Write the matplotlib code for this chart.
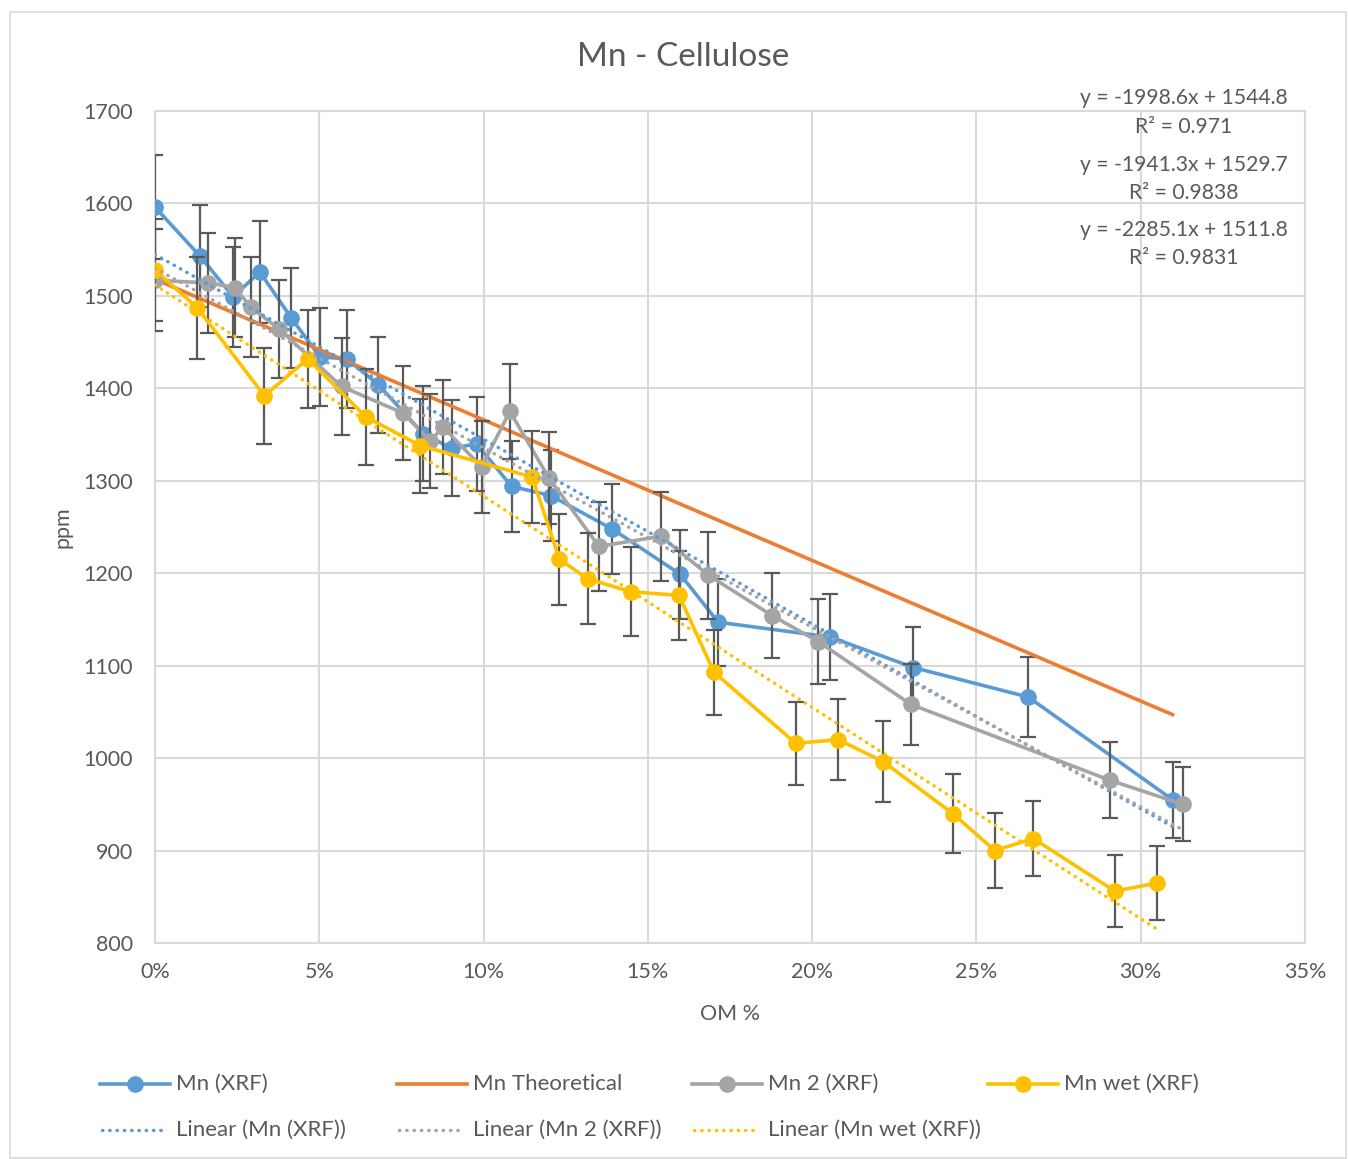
import matplotlib
matplotlib.use("Agg")
import matplotlib.pyplot as plt
import numpy as np
from matplotlib.lines import Line2D
from matplotlib.patches import Rectangle
from matplotlib.ticker import FuncFormatter, MultipleLocator

plt.rcParams['font.family'] = ['Lato', 'DejaVu Sans']

# ---- data (OM % and ppm) ----
mn_x = [0, 1.37, 2.38, 3.19, 4.15, 5.02, 5.83, 6.80, 8.16, 9.03, 9.79, 10.85,
        12.04, 13.91, 15.98, 17.14, 20.55, 23.08, 26.58, 30.97]
mn_y = [1596, 1543, 1499, 1526, 1476, 1434, 1432, 1404, 1351, 1335, 1340, 1294,
        1284, 1248, 1199, 1147, 1131, 1098, 1066, 955]
mn_err = [56, 55, 54, 55, 54, 53, 53, 52, 51, 52, 51, 49, 49, 49, 48, 47, 46, 44, 43, 41]

mn2_x = [0, 1.62, 2.43, 2.91, 3.78, 5.68, 7.56, 8.37, 8.77, 9.94, 10.80, 11.99,
         13.51, 15.40, 16.84, 18.79, 20.19, 23.01, 29.07, 31.28]
mn2_y = [1517, 1514, 1509, 1488, 1464, 1402, 1373, 1343, 1358, 1315, 1375, 1303,
         1229, 1240, 1198, 1154, 1126, 1058, 976, 950]
mn2_err = [55, 54, 54, 54, 53, 52, 51, 51, 51, 50, 51, 50, 48, 48, 47, 46, 46, 44, 41, 40]

wet_x = [0, 1.29, 3.33, 4.65, 6.42, 8.08, 11.48, 12.31, 13.17, 14.48, 15.95, 17.01,
         19.50, 20.80, 22.17, 24.28, 25.56, 26.73, 29.22, 30.51]
wet_y = [1528, 1487, 1392, 1432, 1369, 1338, 1304, 1215, 1194, 1180, 1176, 1093,
         1016, 1020, 996, 940, 900, 913, 856, 865]
wet_err = [55, 55, 52, 53, 52, 51, 50, 49, 49, 48, 48, 46, 45, 44, 44, 43, 41, 41, 39, 40]

theo_x = [0, 30.97]
theo_y = [1518, 1047]

# trendline coefficients (x as fraction)
fit_mn = (-1998.6, 1544.8, 0.971)
fit_mn2 = (-1941.3, 1529.7, 0.9838)
fit_wet = (-2285.1, 1511.8, 0.9831)

names = ["Mn (XRF)", "Mn Theoretical", "Mn 2 (XRF)", "Mn wet (XRF)"]
lin_names = ["Linear (Mn (XRF))", "Linear (Mn 2 (XRF))", "Linear (Mn wet (XRF))"]

BLUE = "#5B9BD5"; ORANGE = "#ED7D31"; GRAY = "#A5A5A5"; YELLOW = "#FFC000"
TXT = "#595959"; GRID = "#D9D9D9"; ERR = "#595959"
DOT = (0, (0.1, 2.0))

W, H = 1348, 1159
fig = plt.figure(figsize=(W / 100, H / 100), dpi=100)
fig.patch.set_facecolor("white")
fig.add_artist(Rectangle((10 / W, 1 - 1158 / H), (1346 - 10) / W, (1158 - 12) / H,
                         transform=fig.transFigure, fill=False, edgecolor=GRID, lw=1.2))

ax = fig.add_axes([155 / W, 1 - 943 / H, (1305 - 155) / W, (943 - 111) / H])
ax.set_xlim(0, 0.35)
ax.set_ylim(800, 1700)
ax.xaxis.set_major_locator(MultipleLocator(0.05))
ax.yaxis.set_major_locator(MultipleLocator(100))
ax.xaxis.set_major_formatter(FuncFormatter(lambda v, p: f"{v*100:.0f}%"))
ax.grid(True, color=GRID, lw=1.5)
ax.set_axisbelow(True)
for s in ax.spines.values():
    s.set_color(GRID)
    s.set_linewidth(1.5)
ax.tick_params(length=0, labelsize=15.5, labelcolor=TXT)
ax.tick_params(axis='x', pad=14)
ax.tick_params(axis='y', pad=16)

def series(xs, ys, errs, color, z):
    xf = np.array(xs) / 100.0
    ax.errorbar(xf, ys, yerr=errs, fmt='none', ecolor=ERR, elinewidth=1.6,
                capsize=6, capthick=1.6, zorder=z)
    ax.plot(xf, ys, color=color, lw=2.6, marker='o', ms=11, zorder=z + 0.5)

series(mn_x, mn_y, mn_err, BLUE, 3)
ax.plot(np.array(theo_x) / 100.0, theo_y, color=ORANGE, lw=2.6, zorder=4.6)
series(mn2_x, mn2_y, mn2_err, GRAY, 5)
series(wet_x, wet_y, wet_err, YELLOW, 7)

def trend(xs, fit, color, z):
    xe = np.array([0, xs[-1] / 100.0])
    ax.plot(xe, fit[0] * xe + fit[1], color=color, lw=2.5, ls=DOT,
            dash_capstyle='round', zorder=z)

trend(mn_x, fit_mn, BLUE, 9)
trend(mn2_x, fit_mn2, GRAY, 9.1)
trend(wet_x, fit_wet, YELLOW, 9.2)

# trendline equations
eq_y = [98, 127, 165, 193, 230, 258]
k = 0
for fit in (fit_mn, fit_mn2, fit_wet):
    a, b, r2 = fit
    fig.text(1184 / W, 1 - eq_y[k] / H, f"y = {a}x + {b}", ha='center', va='center',
             fontsize=15.2, color=TXT)
    fig.text(1184 / W, 1 - eq_y[k + 1] / H, f"R² = {r2}", ha='center', va='center',
             fontsize=15.2, color=TXT)
    k += 2

fig.text(683 / W, 1 - 57 / H, "Mn - Cellulose", ha='center', va='center',
         fontsize=24, color=TXT)
fig.text(730 / W, 1 - 1014 / H, "OM %", ha='center', va='center', fontsize=15.5, color=TXT)
fig.text(62 / W, 1 - 527 / H, "ppm", ha='center', va='center', rotation=90,
         fontsize=15.5, color=TXT)

# legend (manual, two rows)
def leg(x0, y0, color, label, marker=None, dotted=False):
    yy = 1 - y0 / H
    if dotted:
        fig.add_artist(Line2D([(x0 + 2) / W, (x0 + 64) / W], [yy, yy], transform=fig.transFigure,
                              color=color, lw=2.5, ls=DOT, dash_capstyle='round'))
    else:
        fig.add_artist(Line2D([x0 / W, (x0 + 70) / W], [yy, yy], transform=fig.transFigure,
                              color=color, lw=2.6))
        if marker:
            fig.add_artist(Line2D([(x0 + 35) / W], [yy], transform=fig.transFigure,
                                  color=color, marker='o', ms=11, lw=0))
    fig.text((x0 + 76) / W, yy, label, ha='left', va='center', fontsize=16, color=TXT)

colx = [100, 397, 692, 988]
leg(colx[0], 1084, BLUE, names[0], marker=True)
leg(colx[1], 1084, ORANGE, names[1])
leg(colx[2], 1084, GRAY, names[2], marker=True)
leg(colx[3], 1084, YELLOW, names[3], marker=True)
leg(colx[0], 1130, BLUE, lin_names[0], dotted=True)
leg(colx[1], 1130, GRAY, lin_names[1], dotted=True)
leg(colx[2], 1130, YELLOW, lin_names[2], dotted=True)

fig.savefig("out.png", dpi=100, facecolor="white")
